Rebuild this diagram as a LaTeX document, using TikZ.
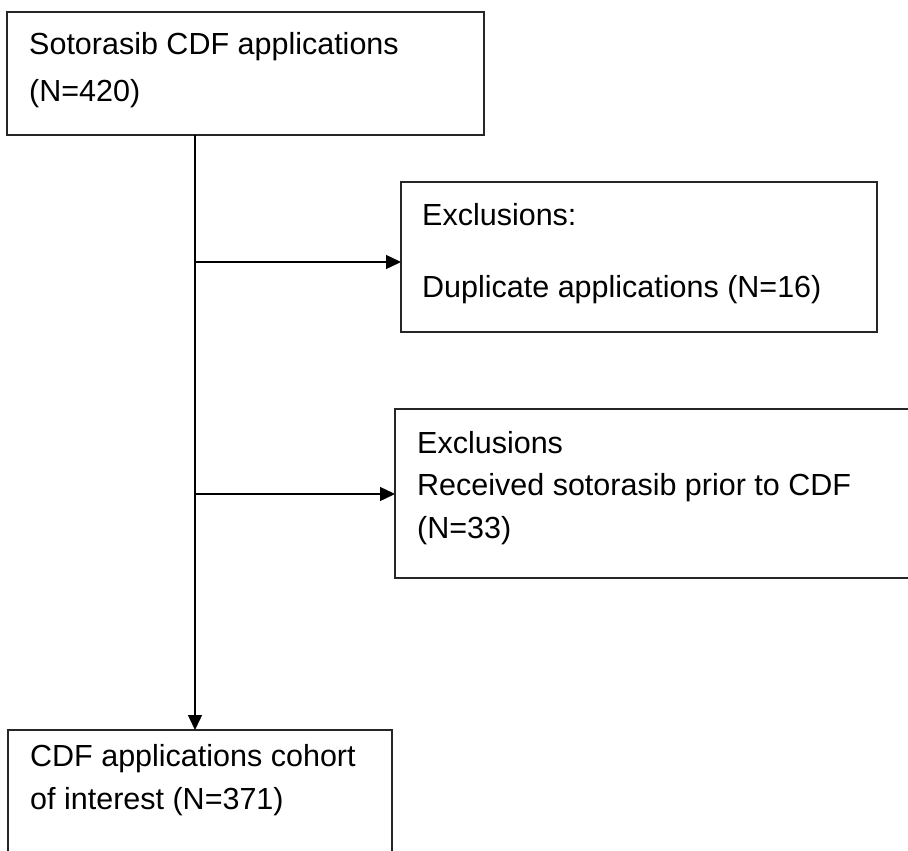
\documentclass[tikz,border=0pt]{standalone}
\usepackage{fontspec}
\setmainfont{Liberation Sans}
\usetikzlibrary{arrows.meta}
\begin{document}
\begin{tikzpicture}[x=1pt,y=-1pt,
  box/.style={draw=black!85, line width=1.3pt},
  lbl/.style={anchor=base west, inner sep=0pt, font=\fontsize{30.5}{36}\selectfont},
  conn/.style={line width=1.4pt, -{Triangle[length=15pt,width=14pt]}},
  trunk/.style={line width=1.4pt}]
\useasboundingbox (0,0) rectangle (908,851);
\clip (0,0) rectangle (908,851);
% box 1
\draw[box] (7,12) rectangle (484,135);
\node[lbl] (t1a) at (29,55) {Sotorasib CDF applications};
\node[lbl] (t1b) at (29,101) {(N=420)};
\coordinate (b1s) at (195,135);
% box 2
\draw[box] (401,182) rectangle (877,332);
\node[lbl] (t2a) at (422,225) {Exclusions:};
\node[lbl] (t2b) at (422,297) {Duplicate applications (N=16)};
\coordinate (b2w) at (401,262);
% box 3
\draw[box] (930,409) -- (395,409) -- (395,578) -- (930,578);
\node[lbl] (t3a) at (417,453) {Exclusions};
\node[lbl] (t3b) at (417,495) {Received sotorasib prior to CDF};
\node[lbl] (t3c) at (417,538) {(N=33)};
\coordinate (b3w) at (395,494);
% box 4
\draw[box] (392,870) -- (392,730) -- (8,730) -- (8,870);
\node[lbl] (t4a) at (30,766) {CDF applications cohort};
\node[lbl] (t4b) at (30,809) {of interest (N=371)};
\coordinate (b4n) at (195,730);
% connectors
\coordinate (j1) at (195,262);
\coordinate (j2) at (195,494);
\draw[trunk] (b1s) -- (j1);
\draw[conn] (b1s) -- (b4n);
\draw[conn] (j1) -- (b2w);
\draw[conn] (j2) -- (b3w);
\end{tikzpicture}
\end{document}
